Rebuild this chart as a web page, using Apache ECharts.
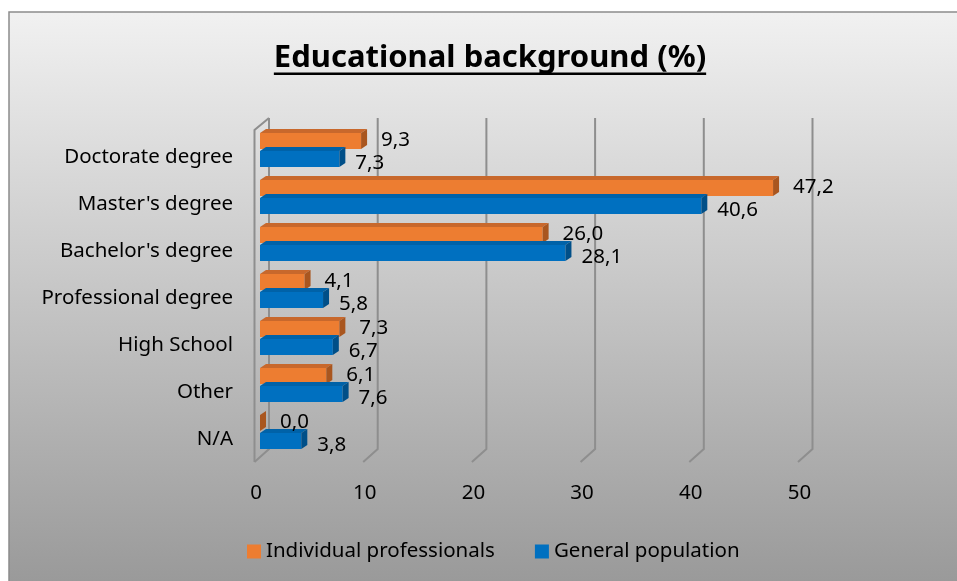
<!DOCTYPE html>
<html>
<head>
<meta charset="utf-8">
<script src="https://cdn.jsdelivr.net/npm/echarts@6/dist/echarts.min.js"></script>
<style>
  html, body { margin: 0; padding: 0; background: #ffffff; }
  #chart { width: 957px; height: 581px; }
</style>
</head>
<body>
<div id="chart"></div>
<script>
// Educational background (%) — two groups, one bar each per category
const categories = ["Doctorate degree", "Master's degree", "Bachelor's degree", "Professional degree", "High School", "Other", "N/A"];
const individualProfessionals = [9.3, 47.2, 26.0, 4.1, 7.3, 6.1, 0.0];
const generalPopulation = [7.3, 40.6, 28.1, 5.8, 6.7, 7.6, 3.8];
const axisTicks = [0, 10, 20, 30, 40, 50];
const seriesNames = ["Individual professionals", "General population"];
const titleText = "Educational background (%)";

const FONT = "'Noto Sans', 'Open Sans', sans-serif";
const LABEL_SIZE = 20.5;
const TITLE_SIZE = 31;

// face colours: front, top, side
const palette = [
  { front: '#ED7D31', top: '#C8682C', side: '#A9561F' },
  { front: '#0070C0', top: '#0062A8', side: '#004F88' }
];

const fmt = v => v.toFixed(1).replace('.', ',');

// 3D bar: front face + top strip + right side face, with a value label
function barRenderer(idx) {
  const col = palette[idx];
  const depthX = 6, depthY = -4, thick = 16;
  return function (params, api) {
    const val = api.value(0);
    const cat = api.value(1);
    const p0 = api.coord([0, cat]);
    const p1 = api.coord([val, cat]);
    const cy = p0[1];
    const y0 = idx === 0 ? cy - 17 : cy + 1;
    const x0 = p0[0], x1 = p1[0];
    const children = [];
    if (x1 > x0) {
      children.push({
        type: 'rect',
        shape: { x: x0, y: y0, width: x1 - x0, height: thick },
        style: { fill: col.front }
      });
    }
    children.push({
      type: 'polygon',
      shape: { points: [[x0, y0], [x0 + depthX, y0 + depthY], [x1 + depthX, y0 + depthY], [x1, y0]] },
      style: { fill: col.top }
    });
    children.push({
      type: 'polygon',
      shape: { points: [[x1, y0], [x1 + depthX, y0 + depthY], [x1 + depthX, y0 + thick + depthY], [x1, y0 + thick]] },
      style: { fill: col.side }
    });
    const lx = idx === 0 ? x1 + 20 : x1 + 16;
    const ly = idx === 0 ? y0 + thick / 2 - 1 : y0 + thick / 2 + 4;
    children.push({
      type: 'text',
      style: {
        text: fmt(val), x: lx, y: ly, fill: '#000000',
        fontSize: LABEL_SIZE, fontFamily: FONT, align: 'left', verticalAlign: 'middle'
      },
      z2: 10
    });
    return { type: 'group', children };
  };
}

// walls: back gridlines that bend forward onto the floor
function wallRenderer(params, api) {
  const v = api.value(0);
  const cs = params.coordSys;
  const x = api.coord([v, 0])[0];
  const bx = x + 9, fx = x - 5.5;
  const topB = cs.y - 8.5, botB = cs.y + cs.height - 6.5, botF = cs.y + cs.height + 6.5;
  const lineStyle = { stroke: '#8E8E8E', lineWidth: 2, fill: null };
  const children = [{
    type: 'polyline',
    shape: { points: [[bx, topB], [bx, botB], [fx, botF]] },
    style: lineStyle
  }];
  if (v === axisTicks[0]) {
    children.push({
      type: 'polyline',
      shape: { points: [[fx, botF], [fx, cs.y + 3.5], [bx, topB]] },
      style: lineStyle
    });
  }
  return { type: 'group', children };
}

const chart = echarts.init(document.getElementById('chart'), null, { renderer: 'canvas' });

// underline width for the title
const ctx = document.createElement('canvas').getContext('2d');
ctx.font = `bold ${TITLE_SIZE}px ${FONT}`;
const titleWidth = ctx.measureText(titleText).width;
const titleCenter = 490;

chart.setOption({
  backgroundColor: '#ffffff',
  animation: false,
  graphic: [
    {
      type: 'rect', z: -10, silent: true,
      shape: { x: 9, y: 12, width: 1000, height: 600 },
      style: {
        fill: new echarts.graphic.LinearGradient(0, 0, 0, 1, [
          { offset: 0, color: '#F1F1F1' },
          { offset: 1, color: '#959595' }
        ]),
        stroke: '#8C8C8C', lineWidth: 1.5
      }
    },
    {
      type: 'text', silent: true,
      style: {
        text: titleText, x: titleCenter, y: 58, fill: '#000000',
        fontSize: TITLE_SIZE, fontWeight: 'bold', fontFamily: FONT,
        align: 'center', verticalAlign: 'middle'
      }
    },
    {
      type: 'rect', silent: true,
      shape: { x: titleCenter - titleWidth / 2, y: 72.5, width: titleWidth, height: 2.5 },
      style: { fill: '#000000' }
    }
  ],
  legend: {
    data: seriesNames,
    left: 242, top: 536,
    icon: 'rect', itemWidth: 14, itemHeight: 14, itemGap: 40,
    textStyle: { fontSize: LABEL_SIZE, color: '#000000', fontFamily: FONT },
    selectedMode: false
  },
  grid: { left: 260, right: 153.5, top: 126.5, bottom: 125.5 },
  xAxis: {
    type: 'value', min: 0, max: 50, interval: 10,
    axisLine: { show: false }, axisTick: { show: false }, splitLine: { show: false },
    axisLabel: {
      fontSize: LABEL_SIZE, color: '#000000', fontFamily: FONT, margin: 27,
      padding: [0, 8, 0, 0]
    }
  },
  yAxis: {
    type: 'category', data: categories, inverse: true,
    axisLine: { show: false }, axisTick: { show: false }, splitLine: { show: false },
    axisLabel: {
      fontSize: LABEL_SIZE, color: '#000000', fontFamily: FONT, margin: 27,
      verticalAlign: 'top', lineHeight: 15
    }
  },
  series: [
    {
      type: 'custom', name: 'walls', silent: true, z: 1,
      renderItem: wallRenderer,
      encode: { x: 0, y: 1 },
      data: axisTicks.map(v => [v, 0])
    },
    {
      type: 'custom', name: seriesNames[0], z: 3,
      itemStyle: { color: palette[0].front },
      renderItem: barRenderer(0),
      encode: { x: 0, y: 1 },
      data: individualProfessionals.map((v, i) => [v, i])
    },
    {
      type: 'custom', name: seriesNames[1], z: 3,
      itemStyle: { color: palette[1].front },
      renderItem: barRenderer(1),
      encode: { x: 0, y: 1 },
      data: generalPopulation.map((v, i) => [v, i])
    }
  ]
});
</script>
</body>
</html>
